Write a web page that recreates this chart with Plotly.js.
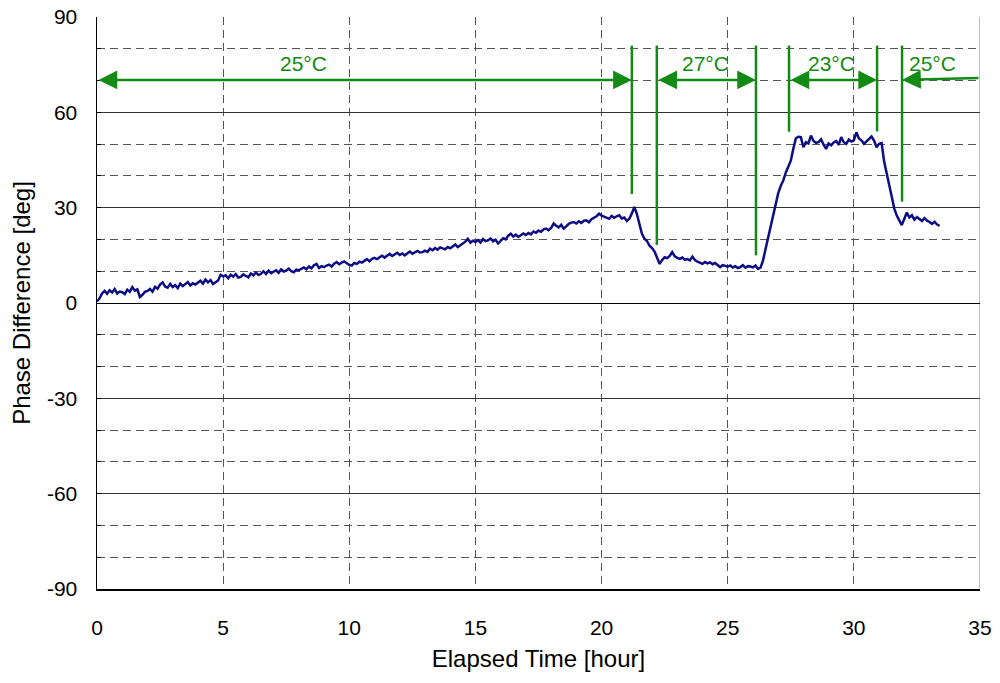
<!DOCTYPE html>
<html>
<head>
<meta charset="utf-8">
<script src="https://cdn.plot.ly/plotly-3.0.1.min.js"></script>
<style>html,body{margin:0;padding:0;background:#fff;}#chart{width:1000px;height:683px;}</style>
</head>
<body>
<div id="chart"></div>
<script>
// Sampling: one reading every 0.1 hour, starting at 0 h
const timeStart = 0.0;
const timeStep = 0.1;
// Phase difference [deg] (rows = one hour each)
const phaseDiff = [
  0.5, 1.5, 3.0, 3.8, 2.9, 4.0, 3.3, 4.4, 3.0, 3.6,
  3.4, 2.8, 4.2, 3.5, 5.0, 3.9, 4.3, 1.9, 2.6, 3.5,
  3.8, 4.4, 3.6, 5.1, 4.5, 5.8, 6.5, 5.2, 4.8, 6.0,
  5.0, 5.6, 4.7, 6.1, 5.3, 5.9, 6.6, 5.5, 6.2, 5.8,
  6.3, 7.0, 6.1, 7.4, 6.5, 7.2, 6.0, 6.6, 7.1, 8.9,
  8.4, 8.7, 7.8, 8.9, 8.3, 9.1, 8.0, 8.2, 9.0, 8.5,
  8.1, 9.3, 8.7, 9.6, 8.8, 9.2, 10.0, 9.1, 10.2, 9.4,
  9.8, 10.3, 9.5, 10.6, 9.9, 10.2, 10.8, 10.0, 9.7, 10.5,
  10.3, 10.8, 11.2, 10.6, 11.5, 10.9, 11.9, 12.3, 11.0, 11.6,
  11.3, 11.8, 12.1, 11.5, 12.4, 12.9, 12.2, 12.7, 13.1, 12.5,
  12.0, 11.8, 12.6, 12.3, 13.0, 12.7, 13.4, 13.8, 13.1, 13.9,
  14.2, 13.8, 14.4, 14.9, 14.3, 15.0, 15.5, 14.8, 15.3, 15.8,
  15.1, 15.6, 15.0, 15.7, 16.2, 15.5, 16.0, 16.4, 15.9, 16.0,
  16.5, 16.1, 17.1, 16.6, 17.3, 16.8, 17.5, 17.1, 16.9, 17.6,
  17.2, 17.8, 18.4, 17.6, 18.1, 18.7, 19.3, 20.2, 19.0, 19.6,
  19.2, 19.8, 19.0, 20.1, 19.5, 19.7, 20.3, 19.4, 19.9, 18.7,
  19.5, 20.4, 20.0, 21.2, 21.8, 20.9, 21.5, 20.8, 21.3, 21.9,
  21.4, 22.0, 21.6, 22.5, 22.1, 22.8, 22.4, 23.2, 23.4, 22.9,
  23.6, 25.0, 24.3, 23.8, 24.6, 23.4, 24.1, 24.9, 25.3, 25.5,
  25.0, 25.7, 25.2, 25.9, 26.0, 25.4, 26.4, 26.9, 27.3, 28.1,
  27.5, 27.2, 26.8, 26.5, 27.4, 26.8, 27.3, 27.6, 26.6, 26.9,
  25.8, 26.5, 28.2, 30.2, 28.0, 24.5, 21.8, 20.2, 19.5, 18.0,
  17.3, 16.2, 14.5, 12.3, 13.5, 14.4, 14.1, 14.8, 16.0, 14.7,
  14.2, 13.9, 14.3, 13.6, 13.8, 13.4, 14.6, 13.5, 13.0, 12.6,
  12.3, 12.9, 12.5, 12.8, 12.2, 12.6, 11.9, 11.3, 11.9, 11.6,
  11.4, 11.8, 11.2, 11.6, 11.0, 11.3, 11.9, 11.1, 11.6, 11.5,
  11.2, 11.8, 10.7, 11.1, 13.4, 17.0, 20.7, 24.5, 27.5, 31.0,
  34.5, 36.8, 38.5, 41.0, 42.8, 44.8, 48.5, 51.8, 52.3, 52.2,
  49.0, 50.6, 50.2, 52.7, 51.0, 50.4, 50.6, 51.5, 49.8, 48.5,
  50.2, 49.6, 50.5, 51.0, 49.8, 52.2, 50.6, 50.1, 51.4, 50.8,
  51.2, 53.7, 51.8, 51.2, 50.1, 50.9, 51.6, 52.4, 51.1, 49.0,
  50.1, 50.3, 44.5, 40.5, 37.5, 33.5, 29.8, 27.5, 26.0, 24.5,
  26.5, 28.5, 26.9, 27.6, 26.2, 27.0, 26.4, 25.8, 26.7, 25.9,
  25.5, 24.9, 25.6, 24.7, 24.3
];
const elapsedTime = phaseDiff.map((_, i) => +(timeStart + i * timeStep).toFixed(2));

// Temperature change boundaries [hour] and vertical marker extents [deg]
const boundaryTimes = [21.2, 22.19, 26.12, 27.43, 30.92, 31.91];
const boundaryTop = [81, 81, 81, 81, 81, 81];
const boundaryBottom = [34.3, 18.3, 15.0, 53.9, 54.0, 31.9];
// Temperature periods: arrow start/end [hour], arrow level [deg], label
const periodStart = [0, 22.19, 27.43, 35];
const periodEnd = [21.2, 26.12, 30.92, 31.91];
const periodLevelStart = [70.2, 70.2, 70.2, 70.8];
const periodLevelEnd = [70.2, 70.2, 70.2, 70.2];
const periodBothHeads = [true, true, true, false];
const periodLabels = ['25°C', '27°C', '23°C', '25°C'];
const labelTimes = [8.2, 24.1, 29.1, 33.1];
const labelLevel = 75.5;

const xTicks = [0, 5, 10, 15, 20, 25, 30, 35];
const yTicks = [-90, -60, -30, 0, 30, 60, 90];

const green = '#138a13';
const fontFam = '"Liberation Sans", Arial, sans-serif';

const shapes = boundaryTimes.map((t, i) => ({
  type: 'line', xref: 'x', yref: 'y', x0: t, x1: t, y0: boundaryBottom[i], y1: boundaryTop[i],
  line: {color: green, width: 2.5}
}));
shapes.push({type: 'line', xref: 'x', yref: 'y', x0: 35, x1: 35, y0: -90, y1: 90,
  line: {color: '#808080', width: 1}, layer: 'below'});

const annotations = [];
periodStart.forEach((s, i) => {
  annotations.push({
    x: periodEnd[i], y: periodLevelEnd[i], ax: s, ay: periodLevelStart[i],
    xref: 'x', yref: 'y', axref: 'x', ayref: 'y', text: '', showarrow: true,
    arrowhead: 2, startarrowhead: 2, arrowsize: 1.5, startarrowsize: 1.5, arrowwidth: 2.5,
    arrowcolor: green, arrowside: periodBothHeads[i] ? 'end+start' : 'end', standoff: 0, startstandoff: 0
  });
});
periodLabels.forEach((lab, i) => {
  annotations.push({
    x: labelTimes[i], y: labelLevel, xref: 'x', yref: 'y', text: lab, showarrow: false,
    font: {family: fontFam, size: 21, color: green}
  });
});

const trace = {
  x: elapsedTime, y: phaseDiff, type: 'scatter', mode: 'lines',
  line: {color: '#0d0d85', width: 2.5}, hoverinfo: 'skip'
};

const layout = {
  width: 1000, height: 683,
  margin: {l: 97, r: 20, t: 17, b: 94},
  paper_bgcolor: '#ffffff', plot_bgcolor: '#ffffff',
  showlegend: false,
  font: {family: fontFam, size: 21, color: '#000'},
  xaxis: {
    range: [0, 35], tickvals: xTicks, ticktext: xTicks.map(String),
    showline: true, linecolor: '#000', linewidth: 1.5,
    showgrid: true, gridcolor: '#555', gridwidth: 1, griddash: '8px,5px',
    zeroline: false, ticks: '', ticklabelstandoff: 19,
    tickfont: {family: fontFam, size: 21, color: '#000'},
    title: {text: 'Elapsed Time [hour]', font: {family: fontFam, size: 24, color: '#000'}, standoff: 12},
    automargin: false
  },
  yaxis: {
    range: [-90, 90], tickvals: yTicks, ticktext: yTicks.map(String),
    showline: true, linecolor: '#000', linewidth: 1.5,
    showgrid: true, gridcolor: '#333', gridwidth: 1,
    zeroline: true, zerolinecolor: '#000', zerolinewidth: 1,
    ticks: 'inside', ticklen: 4, tickcolor: '#000', ticklabelstandoff: 14,
    minor: {dtick: 10, tick0: 0, showgrid: true, gridcolor: '#555', gridwidth: 1, griddash: '8px,5px', ticks: 'inside', ticklen: 4, tickcolor: '#000'},
    tickfont: {family: fontFam, size: 21, color: '#000'},
    title: {text: 'Phase Difference [deg]', font: {family: fontFam, size: 24, color: '#000'}, standoff: 9},
    automargin: false
  },
  shapes: shapes,
  annotations: annotations
};

Plotly.newPlot('chart', [trace], layout, {staticPlot: true, displayModeBar: false});
</script>
</body>
</html>
